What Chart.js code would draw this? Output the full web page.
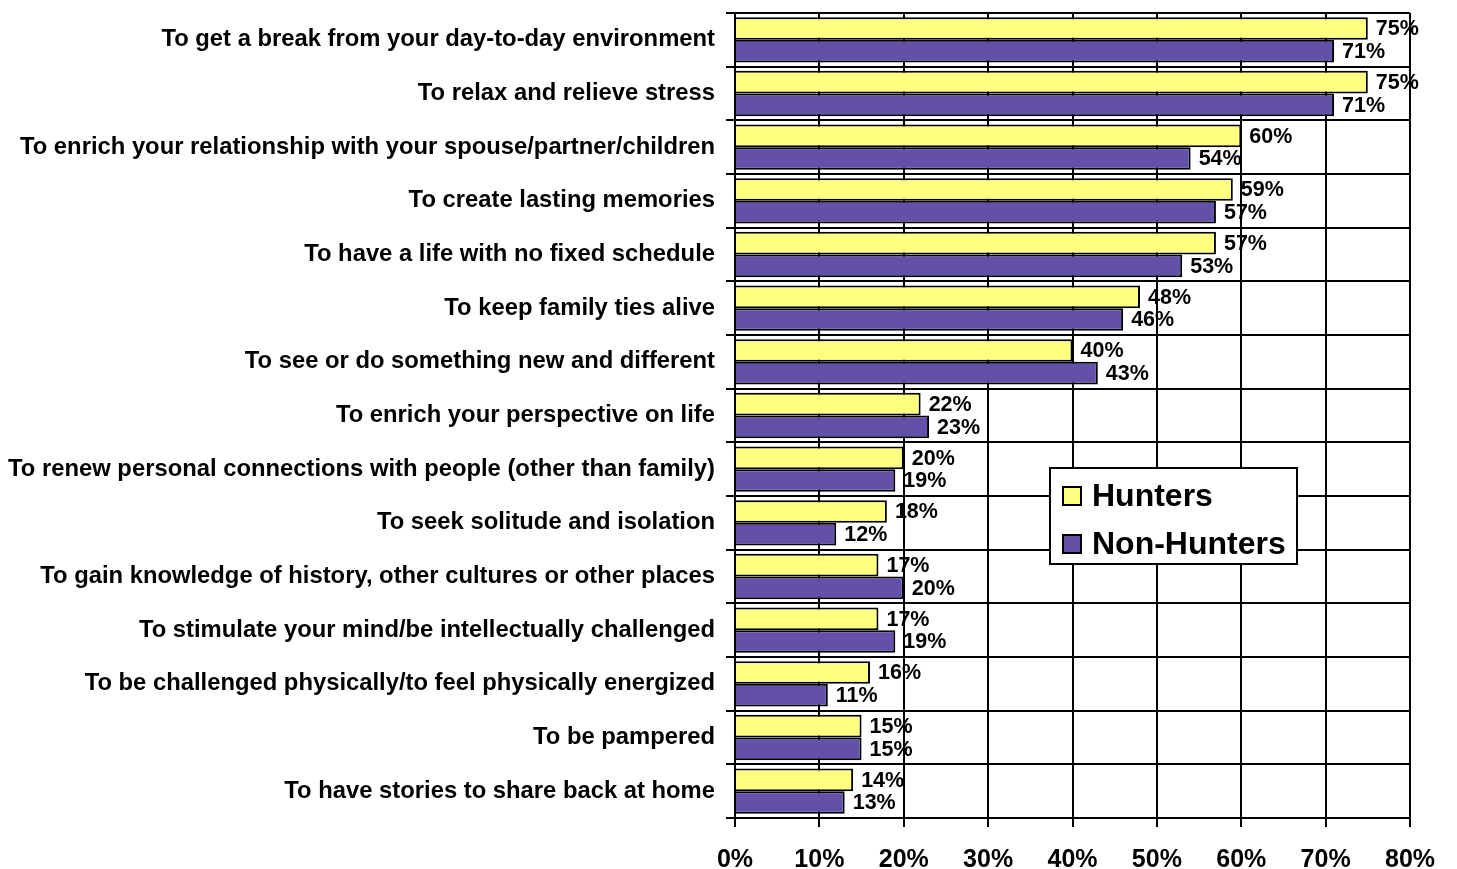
<!DOCTYPE html>
<html lang="en">
<head>
  <meta charset="UTF-8" />
  <title>Reasons for travel</title>
  <script src="https://cdn.jsdelivr.net/npm/chart.js"></script>
  <style>
    html, body {
      margin: 0;
      padding: 0;
      background: #fff;
    }
    #wrap {
      width: 1457px;
      height: 869px;
    }
  </style>
</head>
<body>
  <div id="wrap"><canvas id="chart"></canvas></div>

  <script>
    // données
    const categories = [
      'To get a break from your day-to-day environment',
      'To relax and relieve stress',
      'To enrich your relationship with your spouse/partner/children',
      'To create lasting memories',
      'To have a life with no fixed schedule',
      'To keep family ties alive',
      'To see or do something new and different',
      'To enrich your perspective on life',
      'To renew personal connections with people (other than family)',
      'To seek solitude and isolation',
      'To gain knowledge of history, other cultures or other places',
      'To stimulate your mind/be intellectually challenged',
      'To be challenged physically/to feel physically energized',
      'To be pampered',
      'To have stories to share back at home'
    ];
    const hunters = [75, 75, 60, 59, 57, 48, 40, 22, 20, 18, 17, 17, 16, 15, 14];
    const nonHunters = [71, 71, 54, 57, 53, 46, 43, 23, 19, 12, 20, 19, 11, 15, 13];
    const seriesNames = ['Hunters', 'Non-Hunters'];
    const xTicks = [0, 10, 20, 30, 40, 50, 60, 70, 80];

    const FONT = '"Liberation Sans", Arial, sans-serif';

    // étiquettes de valeur à droite des barres
    const valueLabels = {
      id: 'valueLabels',
      afterDatasetsDraw(chart) {
        const ctx = chart.ctx;
        ctx.save();
        ctx.font = 'bold 21.5px ' + FONT;
        ctx.fillStyle = '#000';
        ctx.textAlign = 'left';
        ctx.textBaseline = 'middle';
        chart.data.datasets.forEach((ds, i) => {
          chart.getDatasetMeta(i).data.forEach((bar, j) => {
            ctx.fillText(ds.data[j] + '%', bar.x + 8, bar.y + 1);
          });
        });
        ctx.restore();
      }
    };

    // légende encadrée dans la zone du graphique
    const boxLegend = {
      id: 'boxLegend',
      afterDraw(chart) {
        const ctx = chart.ctx;
        const x = 1050, y = 468, w = 247, h = 96;
        ctx.save();
        ctx.fillStyle = '#fff';
        ctx.fillRect(x, y, w, h);
        ctx.strokeStyle = '#000';
        ctx.lineWidth = 2;
        ctx.strokeRect(x, y, w, h);
        ctx.font = 'bold 32px ' + FONT;
        ctx.textAlign = 'left';
        ctx.textBaseline = 'middle';
        chart.data.datasets.forEach((ds, i) => {
          const cy = y + 28 + i * 48;
          ctx.fillStyle = ds.backgroundColor;
          ctx.fillRect(x + 13, cy - 9, 18, 18);
          ctx.lineWidth = 2;
          ctx.strokeRect(x + 13, cy - 9, 18, 18);
          ctx.fillStyle = '#000';
          ctx.fillText(ds.label, x + 42, cy + 1);
        });
        ctx.restore();
      }
    };

    new Chart(document.getElementById('chart'), {
      type: 'bar',
      data: {
        labels: categories,
        datasets: [
          {
            label: seriesNames[0],
            data: hunters,
            backgroundColor: '#ffff80',
            borderColor: '#000',
            borderWidth: 2
          },
          {
            label: seriesNames[1],
            data: nonHunters,
            backgroundColor: '#6351a9',
            borderColor: '#000',
            borderWidth: 2
          }
        ]
      },
      options: {
        indexAxis: 'y',
        responsive: true,
        maintainAspectRatio: false,
        animation: false,
        layout: { padding: { top: 13, right: 47, left: 0, bottom: 0 } },
        datasets: {
          bar: { categoryPercentage: 0.845, barPercentage: 1 }
        },
        scales: {
          x: {
            min: 0,
            max: 80,
            afterBuildTicks(scale) {
              scale.ticks = xTicks.map(v => ({ value: v }));
            },
            afterFit(scale) {
              scale.height = 51;
              scale.paddingLeft = 0;
              scale.paddingRight = 0;
            },
            grid: { color: '#000', lineWidth: 2, tickLength: 9 },
            border: { color: '#000', width: 2 },
            ticks: {
              color: '#000',
              padding: 18,
              maxRotation: 0,
              font: { family: FONT, size: 25, weight: 'bold' },
              callback: v => v + '%'
            }
          },
          y: {
            afterFit(scale) {
              scale.width = 735;
              scale.paddingTop = 0;
              scale.paddingBottom = 0;
            },
            grid: { color: '#000', lineWidth: 2, tickLength: 9, offset: true },
            border: { color: '#000', width: 2 },
            ticks: {
              color: '#000',
              padding: 11,
              font: { family: FONT, size: 23.8, weight: 'bold' }
            }
          }
        },
        plugins: {
          legend: { display: false },
          tooltip: { enabled: false }
        }
      },
      plugins: [valueLabels, boxLegend]
    });
  </script>
</body>
</html>
